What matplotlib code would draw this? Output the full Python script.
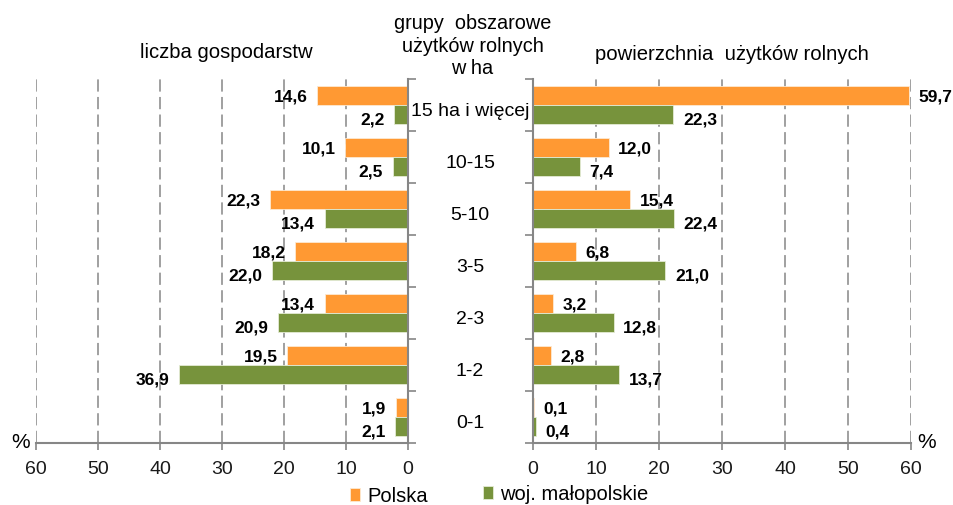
import numpy as np
import matplotlib
matplotlib.use("Agg")
import matplotlib.pyplot as plt
from matplotlib.transforms import blended_transform_factory

plt.rcParams['font.family'] = ['Liberation Sans', 'DejaVu Sans']

# data (top to bottom)
groups = ["15 ha i więcej", "10-15", "5-10", "3-5", "2-3", "1-2", "0-1"]
farms_pl = [14.6, 10.1, 22.3, 18.2, 13.4, 19.5, 1.9]
farms_mp = [2.2, 2.5, 13.4, 22.0, 20.9, 36.9, 2.1]
area_pl = [59.7, 12.0, 15.4, 6.8, 3.2, 2.8, 0.1]
area_mp = [22.3, 7.4, 22.4, 21.0, 12.8, 13.7, 0.4]
ticks = [0, 10, 20, 30, 40, 50, 60]
series_names = ["Polska", "woj. małopolskie"]

ORANGE = "#FF9933"
GREEN = "#77933C"
GREY = "#868686"

fig = plt.figure(figsize=(9.54, 5.06), dpi=100)
ax_l = fig.add_axes([0.03774, 0.12253, 0.38994, 0.71937])
ax_r = fig.add_axes([0.55870, 0.12253, 0.39623, 0.71937])

y = np.arange(len(groups))
h = 0.36


def fmt(v):
    return f"{v:.1f}".replace(".", ",")


def setup(ax, side):
    ax.set_xlim(0, 60)
    ax.set_ylim(len(groups) - 0.5, -0.5)
    ax.set_xticks(ticks)
    ax.set_xticklabels([str(t) for t in ticks])
    ax.set_yticks(np.arange(-0.5, len(groups) + 0.5, 1.0))
    ax.set_yticklabels([])
    ax.xaxis.grid(True, color=GREY, linewidth=1.1, dashes=(8, 3.5))
    ax.set_axisbelow(True)
    for s in ["top", "left", "right"]:
        ax.spines[s].set_visible(False)
    ax.spines["bottom"].set_color(GREY)
    ax.spines["bottom"].set_linewidth(1.5)
    ax.spines[side].set_visible(True)
    ax.spines[side].set_color(GREY)
    ax.spines[side].set_linewidth(1.5)
    ax.tick_params(axis="x", length=5, width=1.2, color=GREY, pad=7,
                   labelsize=14, labelcolor="#1a1a1a")
    ax.tick_params(axis="y", length=6, width=1.2, color=GREY)
    if side == "right":
        ax.yaxis.tick_right()
    else:
        ax.yaxis.tick_left()


setup(ax_l, "right")
setup(ax_r, "left")
ax_l.invert_xaxis()

for ax, pl, mp, sign in [(ax_l, farms_pl, farms_mp, -1), (ax_r, area_pl, area_mp, 1)]:
    b1 = ax.barh(y - h / 2, pl, height=h, color=ORANGE, edgecolor="#fde9d2",
                 linewidth=0.6, label=series_names[0])
    b2 = ax.barh(y + h / 2, mp, height=h, color=GREEN, edgecolor="#e4ebd5",
                 linewidth=0.6, label=series_names[1])
    ha = "right" if sign < 0 else "left"
    for i in range(len(groups)):
        ax.annotate(fmt(pl[i]), (pl[i], y[i] - h / 2), xytext=(7 * sign, 0),
                    textcoords="offset points", ha=ha, va="center",
                    fontsize=12.5, fontweight="bold")
        ax.annotate(fmt(mp[i]), (mp[i], y[i] + h / 2), xytext=(7 * sign, -3.5),
                    textcoords="offset points", ha=ha, va="center",
                    fontsize=12.5, fontweight="bold")

# category labels in the middle
tr = blended_transform_factory(fig.transFigure, ax_l.transData)
for i, g in enumerate(groups):
    ax_l.text(0.4927, i + 0.1, g, transform=tr, ha="center", va="center",
              fontsize=14, clip_on=False)

# titles
fig.text(0.2369, 1 - 58 / 506, "liczba gospodarstw", ha="center", va="baseline", fontsize=14.6)
fig.text(0.7673, 1 - 60 / 506, "powierzchnia  użytków rolnych", ha="center",
         va="baseline", fontsize=14.6)
for txt, base in [("grupy  obszarowe", 29), ("użytków rolnych", 52), ("w ha", 74)]:
    fig.text(0.4953, 1 - base / 506, txt, ha="center", va="baseline", fontsize=14.3)

# percent signs
fig.text(21 / 954, 1 - 443 / 506, "%", ha="center", va="center", fontsize=15)
fig.text(927 / 954, 1 - 443 / 506, "%", ha="center", va="center", fontsize=15)

# legend
h1, l1 = ax_r.get_legend_handles_labels()
fig.legend([h1[0]], [l1[0]], loc="center left", bbox_to_anchor=(350 / 954, 1 - 497 / 506),
           frameon=False, fontsize=14.5, handlelength=0.5, handleheight=0.6,
           handletextpad=0.35, borderpad=0, borderaxespad=0)
fig.legend([h1[1]], [l1[1]], loc="center left", bbox_to_anchor=(483 / 954, 1 - 495 / 506),
           frameon=False, fontsize=14.5, handlelength=0.5, handleheight=0.6,
           handletextpad=0.35, borderpad=0, borderaxespad=0)

fig.savefig("out.png", dpi=100)
